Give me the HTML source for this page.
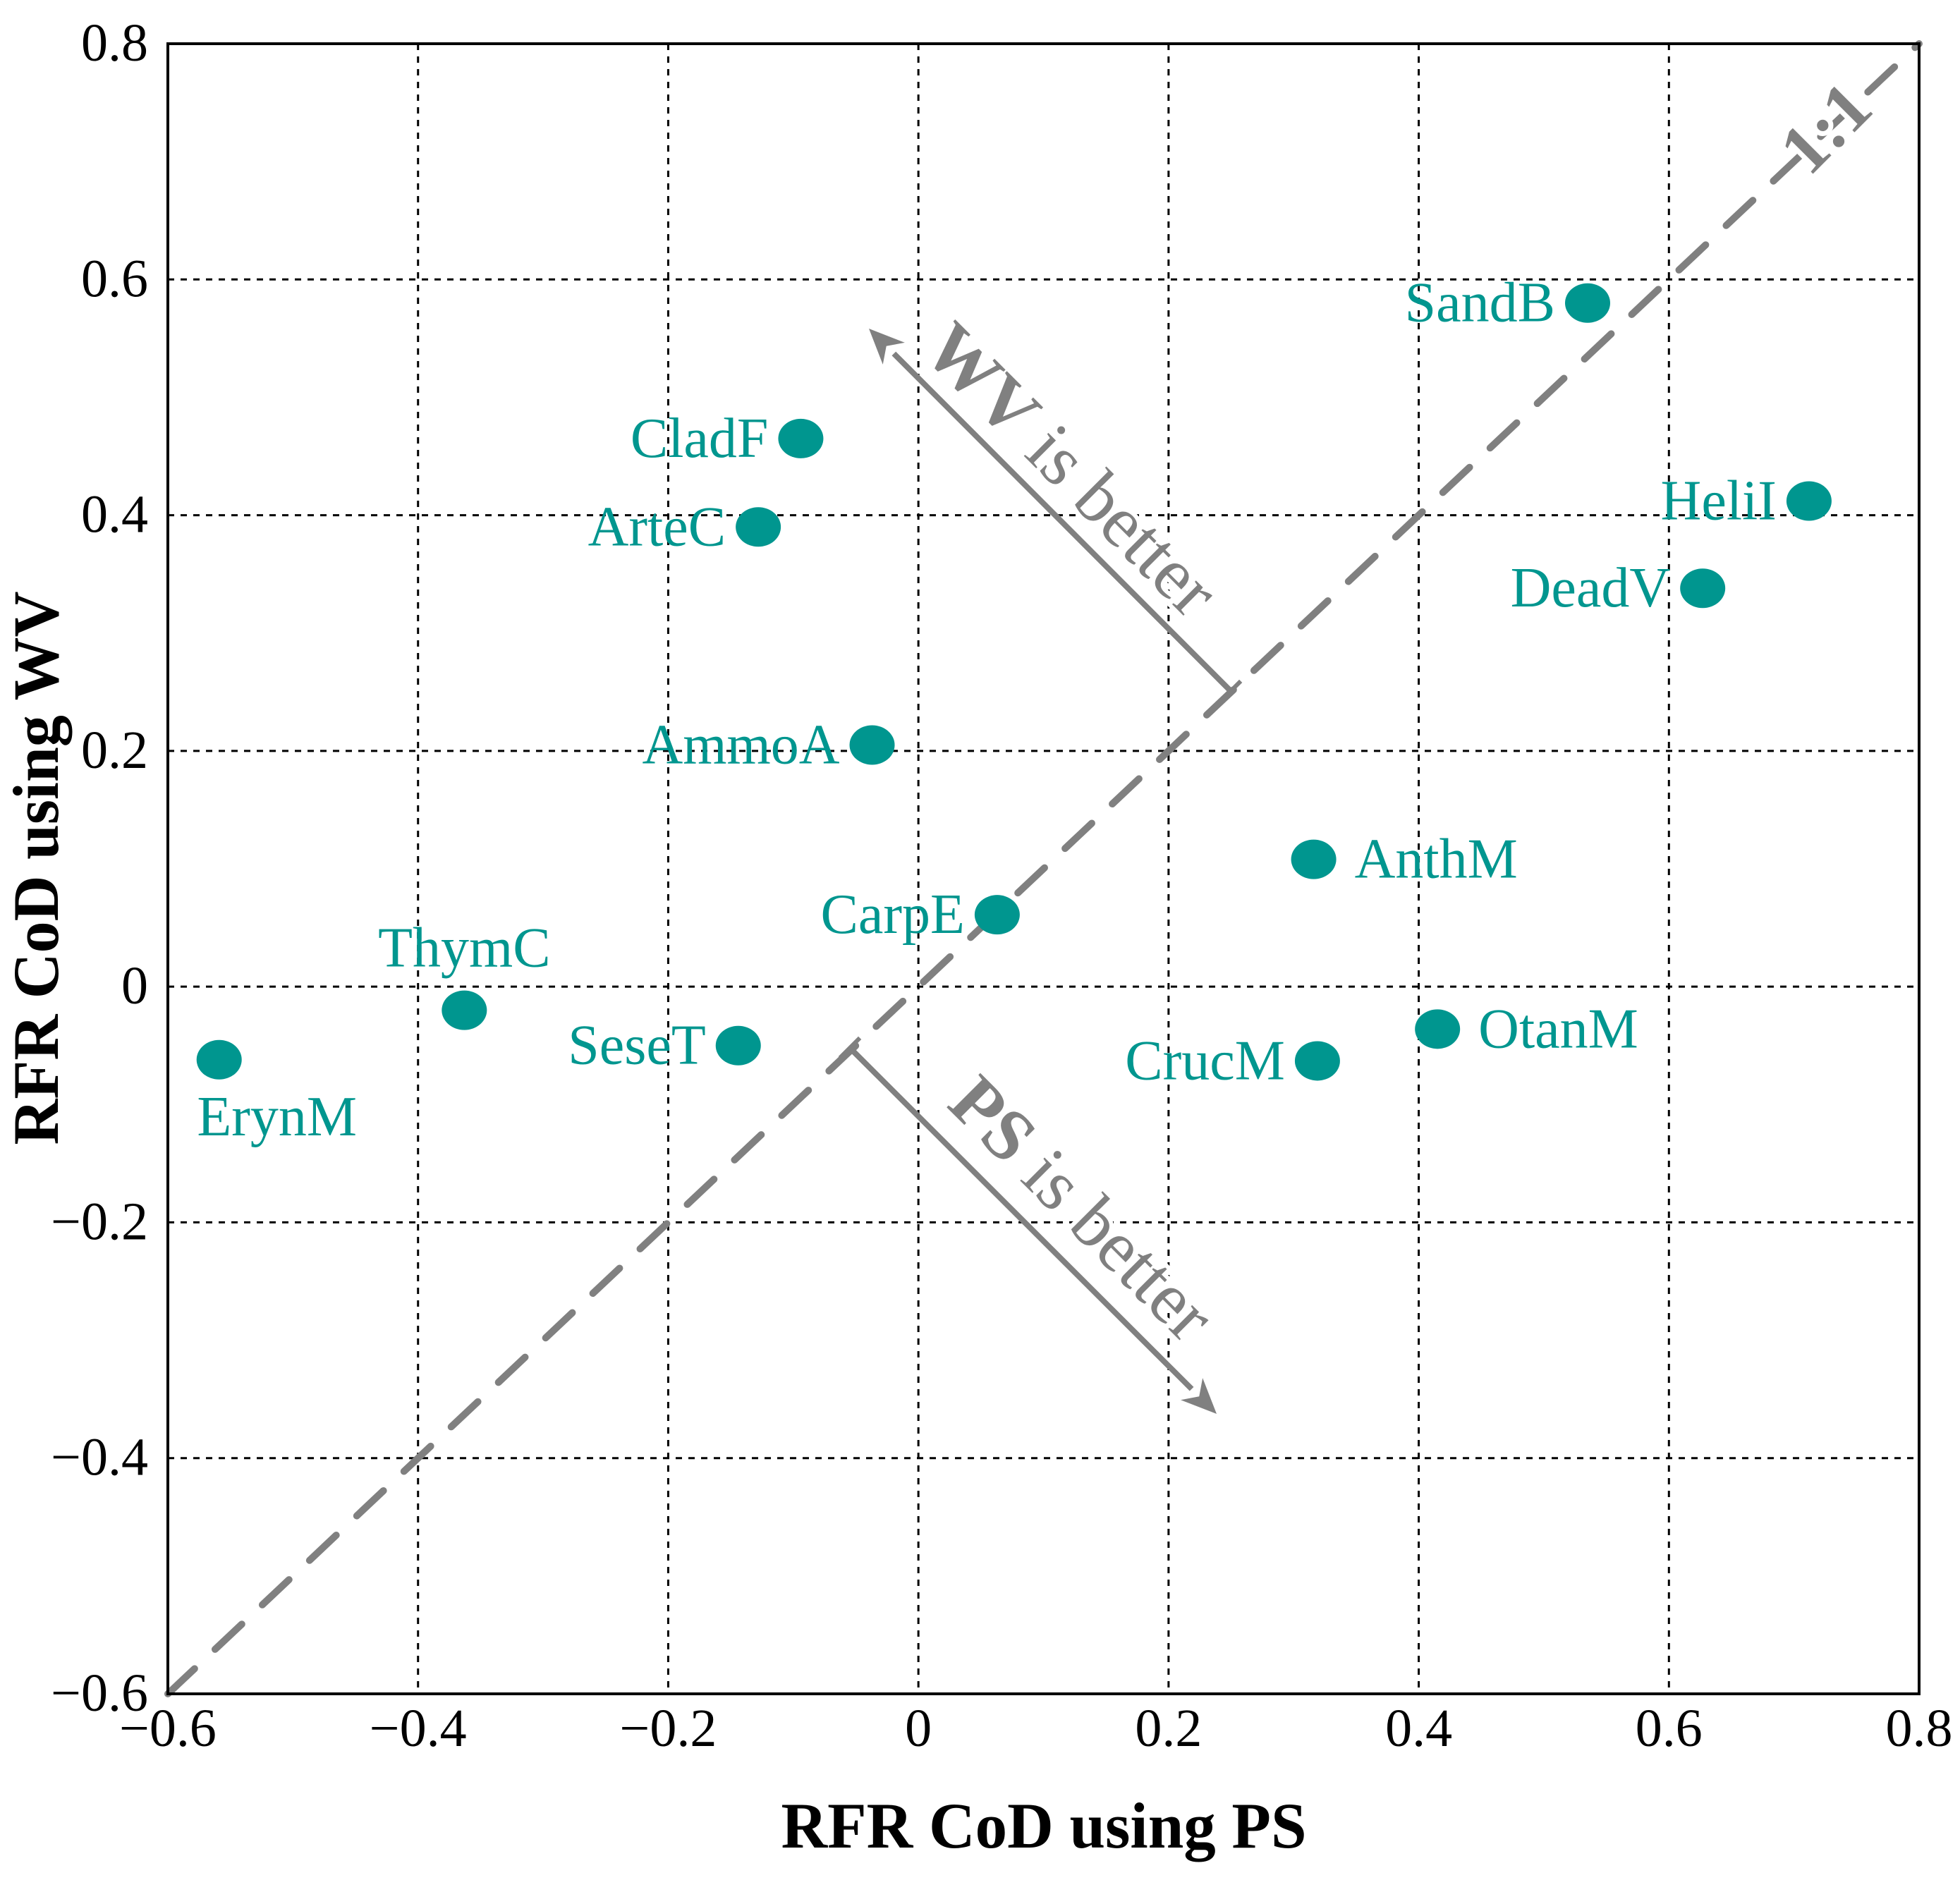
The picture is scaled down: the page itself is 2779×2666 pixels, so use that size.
<!DOCTYPE html>
<html><head><meta charset="utf-8"><style>
html,body{margin:0;padding:0;background:#fff}
svg{display:block}
text{font-family:"Liberation Serif",serif}
</style></head><body>
<svg id="chart" xmlns="http://www.w3.org/2000/svg" width="2779" height="2666" viewBox="0 0 2779 2666">
<g id="grid"></g>
<g id="diag"></g>
<g id="arrows"></g>
<g id="pts"></g>
<rect x="238" y="62" width="2483" height="2340" fill="none" stroke="#000" stroke-width="4"/>
<g id="ticks"></g>
<text x="1480" y="2620" font-size="92" font-weight="bold" text-anchor="middle" textLength="745" lengthAdjust="spacingAndGlyphs">RFR CoD using PS</text>
<text transform="translate(82,1231) rotate(-90)" font-size="92" font-weight="bold" text-anchor="middle" textLength="785" lengthAdjust="spacingAndGlyphs">RFR CoD using WV</text>
</svg>
<script>
const names = ["SandB","CladF","ArteC","HeliI","DeadV","AmmoA","AnthM","CarpE","ThymC","SeseT","ErynM","CrucM","OtanM"];
const xVals = [0.535,-0.094,-0.128,0.712,0.627,-0.037,0.316,0.063,-0.363,-0.144,-0.559,0.319,0.415];
const yVals = [0.58,0.465,0.39,0.412,0.338,0.205,0.108,0.061,-0.02,-0.05,-0.062,-0.063,-0.036];
const labelPos = ["left","left","left","left","left","left","right","left","above","left","below","left","right"];
const xTicks = [-0.6,-0.4,-0.2,0,0.2,0.4,0.6,0.8];
const yTicks = [-0.6,-0.4,-0.2,0,0.2,0.4,0.6,0.8];
const xTickLabels = ["\u22120.6","\u22120.4","\u22120.2","0","0.2","0.4","0.6","0.8"];
const yTickLabels = ["\u22120.6","\u22120.4","\u22120.2","0","0.2","0.4","0.6","0.8"];

const L=238,R=2721,T=62,B=2402;
const sx=v=>L+(v+0.6)/1.4*(R-L);
const sy=v=>B-(v+0.6)/1.4*(B-T);
const NS="http://www.w3.org/2000/svg";
function mk(tag,attrs,parent){const e=document.createElementNS(NS,tag);for(const k in attrs)e.setAttribute(k,attrs[k]);parent.appendChild(e);return e;}
const grid=document.getElementById('grid'),ticks=document.getElementById('ticks');
xTicks.forEach((t,i)=>{
  if(i>0&&i<xTicks.length-1){const ln=mk('line',{x1:sx(t),x2:sx(t),y1:T,y2:B,stroke:'#000','stroke-width':3,'stroke-dasharray':'9 9'},grid);
  
  }
  const tx=mk('text',{x:sx(t),y:2476,'font-size':76,'text-anchor':'middle'},ticks);tx.textContent=xTickLabels[i];
  
  
});
yTicks.forEach((t,i)=>{
  if(i>0&&i<yTicks.length-1){const ln=mk('line',{x1:L,x2:R,y1:sy(t),y2:sy(t),stroke:'#000','stroke-width':3,'stroke-dasharray':'9 9'},grid);
  
  }
  const tx=mk('text',{x:210,y:sy(t)+24,'font-size':76,'text-anchor':'end'},ticks);tx.textContent=yTickLabels[i];
  
  
});
const diag=document.getElementById('diag');
const dl=mk('line',{x1:sx(-0.6),y1:sy(-0.6),x2:sx(0.8),y2:sy(0.8),stroke:'#808080','stroke-width':10,'stroke-dasharray':'52 40','stroke-linecap':'round'},diag);


const lab=mk('text',{transform:'translate(2612,205) rotate(-45)','font-size':100,'font-weight':'bold','text-anchor':'middle',fill:'#808080',stroke:'#fff','stroke-width':14,'paint-order':'stroke'},diag);lab.textContent='1:1';



const ar=document.getElementById('arrows');
function arrow(x1,y1,x2,y2,name){
  const g=mk('g',{},ar);
  
  
  const a=Math.atan2(y2-y1,x2-x1),h=50,w=22;
  const bx=x2-h*Math.cos(a),by=y2-h*Math.sin(a);
  mk('line',{x1:x1,y1:y1,x2:bx,y2:by,stroke:'#808080','stroke-width':8},g);
  mk('polygon',{points:`${x2},${y2} ${bx+w*Math.sin(a)},${by-w*Math.cos(a)} ${x2-h*0.7*Math.cos(a)},${y2-h*0.7*Math.sin(a)} ${bx-w*Math.sin(a)},${by+w*Math.cos(a)}`,fill:'#808080'},g);
  mk('line',{x1:x1-20*Math.sin(a),y1:y1+20*Math.cos(a),x2:x1+20*Math.sin(a),y2:y1-20*Math.cos(a),stroke:'#808080','stroke-width':6},g);
}
arrow(1745,980,1232,466,'wv-arrow');
arrow(1205,1486,1725,2005,'ps-arrow');
function rtext(x,y,ang,html,name){const t=mk('text',{transform:`translate(${x},${y}) rotate(${ang})`,'font-size':104,'text-anchor':'middle',fill:'#808080',stroke:'#fff','stroke-width':12,'paint-order':'stroke'},ar);t.innerHTML=html;
  
  }
rtext(1495,690,45,'<tspan font-weight="bold">WV</tspan> is better','wv-is-better-label');
rtext(1510,1738,45,'<tspan font-weight="bold">PS</tspan> is better','ps-is-better-label');

const pts=document.getElementById('pts');
names.forEach((n,i)=>{
  const cx=sx(xVals[i]),cy=sy(yVals[i]);
  const e=mk('ellipse',{cx:cx,cy:cy,rx:32,ry:28,fill:'#00968f'},pts);
  
  
  let x=cx,y=cy+26,anc='end';
  if(labelPos[i]==='left'){x=cx-46;}
  else if(labelPos[i]==='right'){x=cx+58;anc='start';}
  else if(labelPos[i]==='above'){y=cy-62;anc='middle';}
  else {y=cy+107;x=cx+82;anc='middle';}
  const t=mk('text',{x:x,y:y,'font-size':80,fill:'#00968f','text-anchor':anc},pts);t.textContent=n;
  
  
});
</script>
</body></html>
